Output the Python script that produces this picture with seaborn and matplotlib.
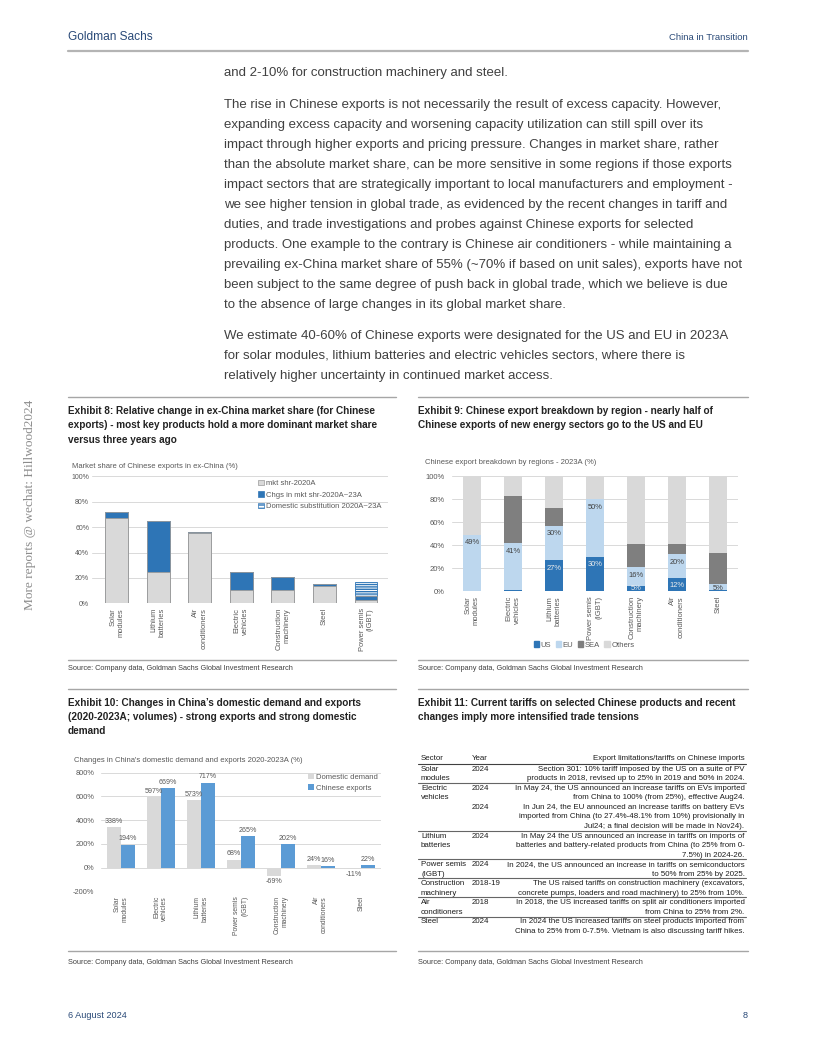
import matplotlib
matplotlib.use("Agg")
import matplotlib.pyplot as plt
import matplotlib.patches as mpatches
import matplotlib.ticker as mticker
from matplotlib.lines import Line2D
import numpy as np
import pandas as pd
import seaborn as sns

W, H = 816, 1056

# ---- Exhibit 8: market share of Chinese exports in ex-China (%)
EX8_CATS = ["Solar\nmodules", "Lithium\nbatteries", "Air\nconditioners", "Electric\nvehicles",
            "Construction\nmachinery", "Steel", "Power semis\n(IGBT)"]
EX8_SHR_2020 = [67, 25, 55, 10.5, 10.5, 13.5, 2.5]
EX8_CHG = [5, 40, 1.5, 14.5, 10, 2, 3.5]
EX8_DOMESTIC = [0, 0, 0, 0, 0, 0, 10.5]
EX8_LEGEND = ["mkt shr-2020A", "Chgs in mkt shr-2020A~23A", "Domestic substitution 2020A~23A"]

# ---- Exhibit 9: export breakdown by region, 2023A (%)
EX9_CATS = ["Solar\nmodules", "Electric\nvehicles", "Lithium\nbatteries", "Power semis\n(IGBT)",
            "Construction\nmachinery", "Air\nconditioners", "Steel"]
EX9_US = [0, 1, 27, 30, 5, 12, 1]
EX9_EU = [49, 41, 30, 50, 16, 20, 5]
EX9_SEA = [0, 41, 15, 0, 20, 9, 27]
EX9_OTHERS = [51, 17, 28, 20, 59, 59, 67]
EX9_LEGEND = ["US", "EU", "SEA", "Others"]

# ---- Exhibit 10: change in domestic demand and exports 2020-2023A (%)
EX10_CATS = ["Solar\nmodules", "Electric\nvehicles", "Lithium\nbatteries", "Power semis\n(IGBT)",
             "Construction\nmachinery", "Air\nconditioners", "Steel"]
EX10_DOMESTIC = [338, 597, 573, 68, -69, 24, -11]
EX10_EXPORTS = [194, 669, 717, 265, 202, 16, 22]
EX10_SERIES = ["Domestic demand", "Chinese exports"]

# ---- Exhibit 11: tariff table
EX11_HEADER = ["Sector", "Year", "Export limitations/tariffs on Chinese imports"]
EX11_SECTOR = ["Solar\nmodules", "Electric\nvehicles", "", "Lithium\nbatteries", "Power semis\n(IGBT)",
               "Construction\nmachinery", "Air\nconditioners", "Steel"]
EX11_YEAR = ["2024", "2024", "2024", "2024", "2024", "2018-19", "2018", "2024"]
EX11_TEXT = [
    "Section 301: 10% tariff imposed by the US on a suite of PV\n"
    "products in 2018, revised up to 25% in 2019 and 50% in 2024.",
    "In May 24, the US announced an increase tariffs on EVs imported\n"
    "from China to 100% (from 25%), effective Aug24.",
    "In Jun 24, the EU announced an increase tariffs on battery EVs\n"
    "imported from China (to 27.4%-48.1% from 10%) provisionally in\n"
    "Jul24; a final decision will be made in Nov24).",
    "In May 24 the US announced an increase in tariffs on imports of\n"
    "batteries and battery-related products from China (to 25% from 0-\n"
    "7.5%) in 2024-26.",
    "In 2024, the US announced an increase in tariffs on semiconductors\n"
    "to 50% from 25% by 2025.",
    "The US raised tariffs on construction machinery (excavators,\n"
    "concrete pumps, loaders and road machinery) to 25% from 10%.",
    "In 2018, the US increased tariffs on split air conditioners imported\n"
    "from China to 25% from 2%.",
    "In 2024 the US increased tariffs on steel products imported from\n"
    "China to 25% from 0-7.5%. Vietnam is also discussing tariff hikes.",
]
EX11_RULE_AFTER = [True, False, True, True, True, True, True, False]

BODY_1 = ["and 2-10% for construction machinery and steel."]
BODY_2 = [
    "The rise in Chinese exports is not necessarily the result of excess capacity. However,",
    "expanding excess capacity and worsening capacity utilization can still spill over its",
    "impact through higher exports and pricing pressure. Changes in market share, rather",
    "than the absolute market share, can be more sensitive in some regions if those exports",
    "impact sectors that are strategically important to local manufacturers and employment -",
    "we see higher tension in global trade, as evidenced by the recent changes in tariff and",
    "duties, and trade investigations and probes against Chinese exports for selected",
    "products. One example to the contrary is Chinese air conditioners - while maintaining a",
    "prevailing ex-China market share of 55% (~70% if based on unit sales), exports have not",
    "been subject to the same degree of push back in global trade, which we believe is due",
    "to the absence of large changes in its global market share.",
]
BODY_3 = [
    "We estimate 40-60% of Chinese exports were designated for the US and EU in 2023A",
    "for solar modules, lithium batteries and electric vehicles sectors, where there is",
    "relatively higher uncertainty in continued market access.",
]
SOURCE = "Source: Company data, Goldman Sachs Global Investment Research"

# colours
NAVY = "#2a4a78"
BODY = "#404040"
TITLE = "#222222"
TICK = "#595959"
GRID = "#d9d9d9"
RULE = "#a6a6a6"
GRAY = "#d9d9d9"
BLUE = "#2e75b6"
LIGHTBLUE = "#bdd7ee"
DARKGRAY = "#7f7f7f"
MIDBLUE = "#5b9bd5"

sns.set_style("white")
plt.rcParams["font.family"] = ["Liberation Sans", "DejaVu Sans"]
plt.rcParams["hatch.linewidth"] = 1.0
plt.rcParams["hatch.color"] = BLUE

fig = plt.figure(figsize=(W / 100, H / 100), dpi=100)


def fx(x):
    return x / W


def fy(y):
    return 1 - y / H


def text(x, y, s, **kw):
    kw.setdefault("va", "center")
    return fig.text(fx(x), fy(y), s, **kw)


def hline(x0, x1, y, color=RULE, lw=1.0):
    fig.add_artist(Line2D([fx(x0), fx(x1)], [fy(y), fy(y)], transform=fig.transFigure,
                          color=color, lw=lw))


def add_ax(left, top, right, bottom):
    return fig.add_axes([fx(left), fy(bottom), (right - left) / W, (bottom - top) / H])


def style_axes(ax, cats, lo, hi, step, ypad, ysize, xsize):
    ax.set_ylim(lo, hi)
    ax.yaxis.set_major_locator(mticker.MultipleLocator(step))
    ax.yaxis.set_major_formatter(mticker.FuncFormatter(lambda v, _: f"{v:.0f}%"))
    ax.grid(axis="y", color=GRID, lw=0.7)
    ax.grid(axis="x", visible=False)
    ax.set_axisbelow(True)
    sns.despine(ax=ax, left=True, bottom=True)
    ax.tick_params(axis="y", length=0, labelsize=ysize, labelcolor=TICK, pad=ypad)
    ax.set_xticks(range(len(cats)))
    ax.set_xticklabels(cats, rotation=90, ha="center", va="top", multialignment="right",
                       fontsize=xsize, color=TICK)
    ax.tick_params(axis="x", length=0, pad=3.3)
    ax.set_xlabel("")
    ax.set_ylabel("")


# ---------------- page header / body ----------------
text(68, 37, "Goldman Sachs", fontsize=8.6, color=NAVY, ha="left")
text(748, 38, "China in Transition", fontsize=6.8, color=NAVY, ha="right")
hline(68, 748, 51, color="#b4b4b4", lw=1.6)

BFS = 9.5
text(224, 73, BODY_1[0], fontsize=BFS, color=BODY, ha="left")
for i, line in enumerate(BODY_2):
    text(224, 105 + 20 * i, line, fontsize=BFS, color=BODY, ha="left")
for i, line in enumerate(BODY_3):
    text(224, 336 + 20 * i, line, fontsize=BFS, color=BODY, ha="left")

text(30, 505, "More reports @ wechat: Hillwood2024", fontsize=9.6, color="#8c8c8c",
     rotation=90, ha="center", family=["Liberation Serif", "DejaVu Serif"])

text(68, 1015, "6 August 2024", fontsize=6.6, color=NAVY, ha="left")
text(748, 1015, "8", fontsize=6.6, color=NAVY, ha="right")

# ---------------- exhibit frames ----------------
for x0, x1 in [(68, 396), (418, 748)]:
    hline(x0, x1, 397)
    hline(x0, x1, 659.5)
    hline(x0, x1, 689)
    hline(x0, x1, 951)
    text(x0, 669, SOURCE, fontsize=5.35, color=BODY, ha="left")
    text(x0, 962, SOURCE, fontsize=5.35, color=BODY, ha="left")

titles = [
    (68, 411, ["Exhibit 8: Relative change in ex-China market share (for Chinese",
               "exports) - most key products hold a more dominant market share",
               "versus three years ago"]),
    (418, 411, ["Exhibit 9: Chinese export breakdown by region - nearly half of",
                "Chinese exports of new energy sectors go to the US and EU"]),
    (68, 702.5, ["Exhibit 10: Changes in China\u2019s domestic demand and exports",
                 "(2020-2023A; volumes) - strong exports and strong domestic",
                 "demand"]),
    (418, 702.5, ["Exhibit 11: Current tariffs on selected Chinese products and recent",
                  "changes imply more intensified trade tensions"]),
]
for x0, y0, lines in titles:
    for i, line in enumerate(lines):
        text(x0, y0 + 14.5 * i, line, fontsize=7.2, fontweight="bold", color=TITLE, ha="left")

# ---------------- Exhibit 8 ----------------
text(72, 466, "Market share of Chinese exports in ex-China (%)", fontsize=5.5, color=TICK, ha="left")
ax8 = add_ax(91.7, 476.3, 388.3, 603.3)
shr = np.array(EX8_SHR_2020)
top_chg = shr + np.array(EX8_CHG)
top_dom = top_chg + np.array(EX8_DOMESTIC)
sns.barplot(x=EX8_CATS, y=top_dom, color="white", saturation=1, width=0.55, errorbar=None,
            edgecolor=BLUE, linewidth=0.6, hatch="-------", ax=ax8)
sns.barplot(x=EX8_CATS, y=top_chg, color=BLUE, saturation=1, width=0.55, errorbar=None,
            edgecolor="#9a9a9a", linewidth=0.6, ax=ax8)
sns.barplot(x=EX8_CATS, y=shr, color=GRAY, saturation=1, width=0.55, errorbar=None,
            edgecolor="#9a9a9a", linewidth=0.6, ax=ax8)
style_axes(ax8, EX8_CATS, 0, 100, 20, 1.8, 5.0, 5.4)
ax8.set_xlim(-0.6, 6.536)
h8 = [mpatches.Patch(facecolor=GRAY, edgecolor="#9a9a9a", lw=0.5),
      mpatches.Patch(facecolor=BLUE, edgecolor=BLUE, lw=0.5),
      mpatches.Patch(facecolor="white", edgecolor=BLUE, lw=0.5, hatch="-----")]
ax8.legend(h8, EX8_LEGEND, loc="upper left", bbox_to_anchor=(0.562, 0.972), frameon=False,
           fontsize=5.5, labelcolor=TICK, handlelength=0.7, handleheight=0.7,
           handletextpad=0.3, borderaxespad=0, borderpad=0, labelspacing=0.55)

# ---------------- Exhibit 9 ----------------
text(425, 463, "Chinese export breakdown by regions - 2023A (%)", fontsize=5.5, color=TICK, ha="left")
ax9 = add_ax(451.7, 476.3, 738.3, 591.3)
us = np.array(EX9_US, dtype=float)
top_us = us
top_eu = top_us + np.array(EX9_EU)
top_sea = top_eu + np.array(EX9_SEA)
top_oth = top_sea + np.array(EX9_OTHERS)
for tops, col in [(top_oth, GRAY), (top_sea, DARKGRAY), (top_eu, LIGHTBLUE), (top_us, BLUE)]:
    sns.barplot(x=EX9_CATS, y=tops, color=col, saturation=1, width=0.45, errorbar=None,
                linewidth=0, ax=ax9)
style_axes(ax9, EX9_CATS, 0, 100, 20, 4.8, 5.5, 5.5)
ax9.set_xlim(-0.5, 6.5)
for i in range(len(EX9_CATS)):
    if EX9_US[i] >= 3:
        ax9.annotate(f"{EX9_US[i]:.0f}%", (i, max(top_us[i] - 7, 2.6)), ha="center", va="center",
                     fontsize=5.4, color="#eeeeee")
    ax9.annotate(f"{EX9_EU[i]:.0f}%", (i, max(top_eu[i] - 7, 2.6)), ha="center", va="center",
                 fontsize=5.4, color="#404040")
h9 = [mpatches.Patch(color=c) for c in [BLUE, LIGHTBLUE, DARKGRAY, GRAY]]
fig.legend(h9, EX9_LEGEND, loc="center", bbox_to_anchor=(fx(584), fy(645)), ncol=4,
           frameon=False, fontsize=5.5, labelcolor=TICK, handlelength=0.7, handleheight=0.7,
           handletextpad=0.2, columnspacing=0.6, borderpad=0)

# ---------------- Exhibit 10 ----------------
text(74, 760, "Changes in China's domestic demand and exports 2020-2023A (%)", fontsize=5.5,
     color=TICK, ha="left")
ax10 = add_ax(100.7, 772.7, 380.7, 891.3)
df10 = pd.DataFrame({
    "cat": EX10_CATS * 2,
    "val": EX10_DOMESTIC + EX10_EXPORTS,
    "series": [EX10_SERIES[0]] * len(EX10_CATS) + [EX10_SERIES[1]] * len(EX10_CATS),
})
sns.barplot(data=df10, x="cat", y="val", hue="series", palette=[GRAY, MIDBLUE], saturation=1,
            width=0.7, errorbar=None, linewidth=0, ax=ax10)
style_axes(ax10, EX10_CATS, -200, 800, 200, 4.6, 5.3, 4.9)
ax10.set_xlim(-0.5, 6.5)
for cont in ax10.containers:
    ax10.bar_label(cont, labels=[f"{b.get_height():.0f}%" for b in cont], padding=1.5,
                   fontsize=5.1, color=TICK)
hd, lb = ax10.get_legend_handles_labels()
ax10.legend(hd, lb, loc="upper left", bbox_to_anchor=(0.742, 0.995), frameon=False,
            fontsize=5.5, labelcolor=TICK, handlelength=0.7, handleheight=0.7,
            handletextpad=0.3, borderaxespad=0, borderpad=0, labelspacing=0.5)

# ---------------- Exhibit 11 table ----------------
TFS = 5.65
TCOL = "#1e1e1e"
text(421, 759, EX11_HEADER[0], fontsize=TFS, color=TCOL, ha="left")
text(472, 759, EX11_HEADER[1], fontsize=TFS, color=TCOL, ha="left")
text(744.5, 759, EX11_HEADER[2], fontsize=TFS, color=TCOL, ha="right")
hline(418, 746, 764.3, color="#404040", lw=0.8)
k = 0
pitch = 9.53
for sector, year, desc, rule in zip(EX11_SECTOR, EX11_YEAR, EX11_TEXT, EX11_RULE_AFTER):
    y0 = 769.3 + pitch * k
    slines = sector.split("\n") if sector else []
    dlines = desc.split("\n")
    for j, s in enumerate(slines):
        text(421, y0 + pitch * j, s, fontsize=TFS, color=TCOL, ha="left")
    text(472, y0, year, fontsize=TFS, color=TCOL, ha="left")
    for j, s in enumerate(dlines):
        text(744.5, y0 + pitch * j, s, fontsize=TFS, color=TCOL, ha="right")
    n = max(len(slines), len(dlines))
    k += n
    if rule:
        hline(418, 746, y0 + pitch * (n - 1) + 4.3, color="#666666", lw=0.8)

fig.savefig("out.png", dpi=100)
